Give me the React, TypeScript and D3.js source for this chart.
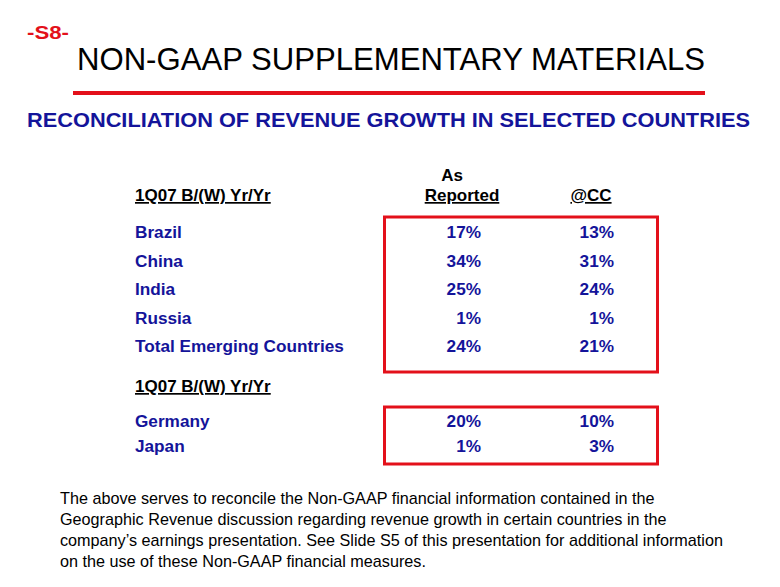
import React from "react";
import * as d3 from "d3";

const emergingCountries = ["Brazil", "China", "India", "Russia", "Total Emerging Countries"];
const emergingReported = [17, 34, 25, 1, 24];
const emergingCC = [13, 31, 24, 1, 21];

const majorCountries = ["Germany", "Japan"];
const majorReported = [20, 1];
const majorCC = [10, 3];

const footnoteLines = [
  "The above serves to reconcile the Non-GAAP financial information contained in the",
  "Geographic Revenue discussion regarding revenue growth in certain countries in the",
  "company\u2019s earnings presentation. See Slide S5 of this presentation for additional information",
  "on the use of these Non-GAAP financial measures.",
];

const BLUE = "#14149a";
const RED = "#e3101a";
const FONT = "Liberation Sans, Arial, sans-serif";

export default function App() {
  const W = 780;
  const H = 587;
  const fmt = (v: number) => `${v}%`;

  const y1 = d3.scalePoint<string>().domain(emergingCountries).range([238, 352]);
  const y2 = d3.scalePoint<string>().domain(majorCountries).range([427, 452]);
  const colX = { label: 135, rep: 481, cc: 614 };

  const renderRows = (names: string[], rep: number[], cc: number[], y: d3.ScalePoint<string>) =>
    names.map((n, i) => (
      <g key={n} fontFamily={FONT} fontWeight="bold" fontSize={17.2} fill={BLUE}>
        <text x={colX.label} y={y(n)}>{n}</text>
        <text x={colX.rep} y={y(n)} textAnchor="end">{fmt(rep[i])}</text>
        <text x={colX.cc} y={y(n)} textAnchor="end">{fmt(cc[i])}</text>
      </g>
    ));

  return (
    <svg width={W} height={H} style={{ position: "absolute", left: 0, top: 0, background: "#fff" }}>
      <rect width={W} height={H} fill="#fff" />
      <text x={27} y={39} fontFamily={FONT} fontWeight="bold" fontSize={18} fill={RED} textLength={42} lengthAdjust="spacingAndGlyphs">-S8-</text>
      <text x={77} y={70} fontFamily={FONT} fontSize={31} fill="#000" textLength={628} lengthAdjust="spacingAndGlyphs">
        NON-GAAP SUPPLEMENTARY MATERIALS
      </text>
      <rect x={73} y={91} width={632} height={4} fill={RED} />
      <text x={27} y={127} fontFamily={FONT} fontWeight="bold" fontSize={20.5} fill={BLUE} textLength={723} lengthAdjust="spacingAndGlyphs">
        RECONCILIATION OF REVENUE GROWTH IN SELECTED COUNTRIES
      </text>

      <g fontFamily={FONT} fontWeight="bold" fontSize={17} fill="#000">
        <text x={452} y={181} textAnchor="middle">As</text>
        <text x={462} y={201} textAnchor="middle" textDecoration="underline"> Reported</text>
        <text x={591} y={201} textAnchor="middle" textDecoration="underline">@CC</text>
        <text x={135} y={201} textDecoration="underline">1Q07 B/(W) Yr/Yr</text>
        <text x={135} y={392} textDecoration="underline">1Q07 B/(W) Yr/Yr</text>
      </g>

      <rect x={384.5} y={217} width={273} height={155} fill="none" stroke={RED} strokeWidth={3} />
      <rect x={384.5} y={407} width={273} height={57} fill="none" stroke={RED} strokeWidth={3} />

      {renderRows(emergingCountries, emergingReported, emergingCC, y1)}
      {renderRows(majorCountries, majorReported, majorCC, y2)}

      <g fontFamily={FONT} fontSize={16.2} fill="#000">
        {footnoteLines.map((l, i) => (
          <text key={i} x={60} y={504 + i * 21}>{l}</text>
        ))}
      </g>
    </svg>
  );
}
